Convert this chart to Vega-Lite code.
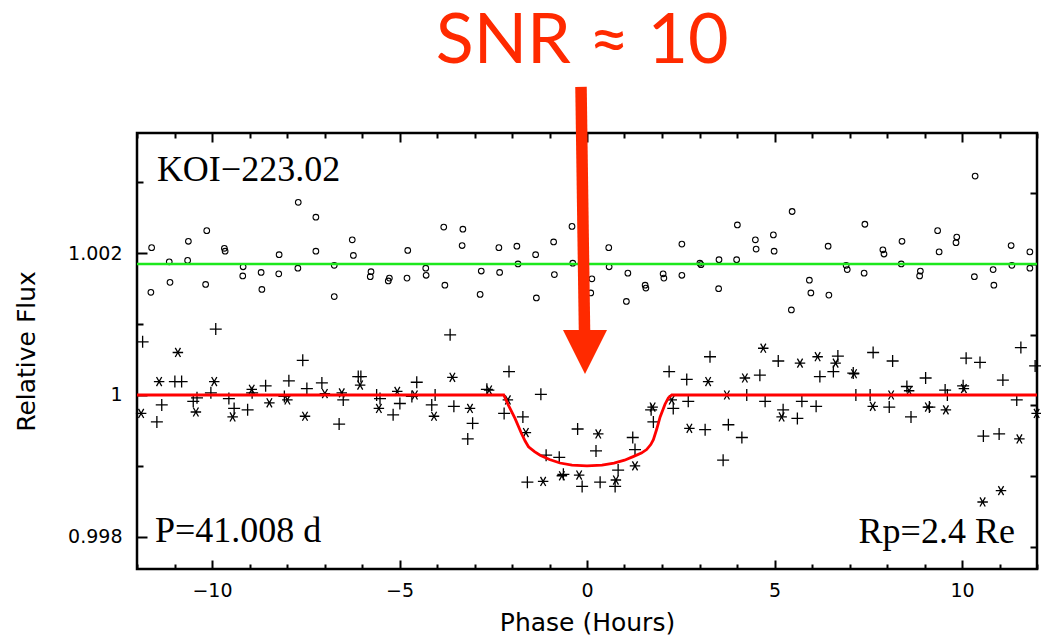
{
  "$schema": "https://vega.github.io/schema/vega-lite/v6.json",
  "width": 900,
  "height": 436,
  "autosize": {"type": "none"},
  "padding": {"left": 137, "top": 133, "right": 4, "bottom": 68},
  "background": "white",
  "config": {
    "view": {"stroke": "black", "strokeWidth": 2.5},
    "axis": {"grid": false, "tickColor": "black", "tickWidth": 2, "labelColor": "black", "titleColor": "black"}
  },
  "datasets": {
    "circles": [
      {"t":-11.61,"flux":1.00208},{"t":-11.63,"flux":1.00145},{"t":-11.14,"flux":1.00188},{"t":-11.12,"flux":1.00159},
      {"t":-10.63,"flux":1.00217},{"t":-10.65,"flux":1.00190},{"t":-10.14,"flux":1.00232},{"t":-10.17,"flux":1.00156},
      {"t":-9.67,"flux":1.00207},{"t":-9.65,"flux":1.00203},{"t":-9.17,"flux":1.00181},{"t":-9.18,"flux":1.00168},
      {"t":-8.69,"flux":1.00173},{"t":-8.67,"flux":1.00149},{"t":-8.21,"flux":1.00198},{"t":-8.22,"flux":1.00171},
      {"t":-7.70,"flux":1.00272},{"t":-7.71,"flux":1.00179},{"t":-7.23,"flux":1.00251},{"t":-7.23,"flux":1.00203},
      {"t":-6.74,"flux":1.00183},{"t":-6.74,"flux":1.00139},{"t":-6.26,"flux":1.00219},{"t":-6.23,"flux":1.00197},
      {"t":-5.76,"flux":1.00174},{"t":-5.78,"flux":1.00167},{"t":-5.27,"flux":1.00165},{"t":-5.30,"flux":1.00161},
      {"t":-4.78,"flux":1.00204},{"t":-4.80,"flux":1.00165},{"t":-4.30,"flux":1.00179},{"t":-4.29,"flux":1.00169},
      {"t":-3.82,"flux":1.00237},{"t":-3.79,"flux":1.00155},{"t":-3.31,"flux":1.00234},{"t":-3.33,"flux":1.00211},
      {"t":-2.82,"flux":1.00175},{"t":-2.85,"flux":1.00142},{"t":-2.35,"flux":1.00208},{"t":-2.33,"flux":1.00173},
      {"t":-1.87,"flux":1.00210},{"t":-1.84,"flux":1.00185},{"t":-1.37,"flux":1.00198},{"t":-1.35,"flux":1.00137},
      {"t":-0.89,"flux":1.00216},{"t":-0.87,"flux":1.00170},{"t":-0.40,"flux":1.00238},{"t":-0.38,"flux":1.00186},
      {"t":0.13,"flux":1.00164},{"t":0.10,"flux":1.00144},{"t":0.58,"flux":1.00208},{"t":0.59,"flux":1.00181},
      {"t":1.09,"flux":1.00172},{"t":1.05,"flux":1.00132},{"t":1.55,"flux":1.00155},{"t":1.57,"flux":1.00151},
      {"t":2.03,"flux":1.00171},{"t":2.05,"flux":1.00165},{"t":2.53,"flux":1.00213},{"t":2.53,"flux":1.00169},
      {"t":3.01,"flux":1.00186},{"t":3.04,"flux":1.00184},{"t":3.52,"flux":1.00191},{"t":3.51,"flux":1.00150},
      {"t":4.01,"flux":1.00240},{"t":3.99,"flux":1.00191},{"t":4.49,"flux":1.00219},{"t":4.51,"flux":1.00206},
      {"t":4.97,"flux":1.00226},{"t":4.99,"flux":1.00203},{"t":5.47,"flux":1.00259},{"t":5.45,"flux":1.00120},
      {"t":5.93,"flux":1.00162},{"t":5.97,"flux":1.00144},{"t":6.43,"flux":1.00210},{"t":6.45,"flux":1.00141},
      {"t":6.91,"flux":1.00183},{"t":6.94,"flux":1.00177},{"t":7.41,"flux":1.00241},{"t":7.39,"flux":1.00172},
      {"t":7.89,"flux":1.00205},{"t":7.92,"flux":1.00199},{"t":8.40,"flux":1.00217},{"t":8.38,"flux":1.00185},
      {"t":8.89,"flux":1.00175},{"t":8.87,"flux":1.00168},{"t":9.35,"flux":1.00232},{"t":9.39,"flux":1.00202},
      {"t":9.86,"flux":1.00223},{"t":9.84,"flux":1.00215},{"t":10.35,"flux":1.00309},{"t":10.33,"flux":1.00167},
      {"t":10.83,"flux":1.00177},{"t":10.85,"flux":1.00155},{"t":11.31,"flux":1.00211},{"t":11.33,"flux":1.00183},
      {"t":11.81,"flux":1.00202},{"t":11.81,"flux":1.00179}
    ],
    "plus": [
      {"t":-11.85,"flux":1.00075},{"t":-11.47,"flux":0.99962},{"t":-11.34,"flux":0.99986},{"t":-10.99,"flux":1.00019},
      {"t":-10.81,"flux":1.00019},{"t":-10.50,"flux":0.99991},{"t":-10.40,"flux":0.99996},{"t":-9.90,"flux":1.00093},
      {"t":-10.03,"flux":1.00003},{"t":-9.55,"flux":0.99995},{"t":-9.41,"flux":0.99981},{"t":-9.05,"flux":0.99979},
      {"t":-8.93,"flux":1.00003},{"t":-8.57,"flux":1.00013},{"t":-8.07,"flux":0.99998},{"t":-7.95,"flux":1.00020},
      {"t":-7.58,"flux":1.00049},{"t":-7.47,"flux":1.00009},{"t":-7.07,"flux":1.00017},{"t":-6.61,"flux":0.99959},
      {"t":-6.50,"flux":0.99993},{"t":-6.10,"flux":1.00026},{"t":-6.03,"flux":1.00026},{"t":-5.61,"flux":1.00000},
      {"t":-5.52,"flux":0.99995},{"t":-4.99,"flux":0.99988},{"t":-5.17,"flux":0.99972},{"t":-4.54,"flux":1.00018},
      {"t":-4.67,"flux":0.99998},{"t":-4.05,"flux":1.00000},{"t":-4.14,"flux":0.99986},{"t":-3.65,"flux":1.00085},
      {"t":-3.55,"flux":0.99984},{"t":-3.05,"flux":0.99960},{"t":-3.18,"flux":0.99938},{"t":-2.67,"flux":1.00008},
      {"t":-2.08,"flux":1.00033},{"t":-2.21,"flux":0.99974},{"t":-1.71,"flux":0.99969},{"t":-1.23,"flux":1.00001},
      {"t":-1.09,"flux":0.99915},{"t":-0.74,"flux":0.99912},{"t":-1.59,"flux":0.99877},{"t":-0.63,"flux":0.99888},
      {"t":-0.25,"flux":0.99952},{"t":-0.13,"flux":0.99871},{"t":0.24,"flux":0.99921},{"t":0.35,"flux":0.99877},
      {"t":0.83,"flux":0.99894},{"t":0.75,"flux":0.99871},{"t":1.22,"flux":0.99940},{"t":1.28,"flux":0.99923},
      {"t":1.71,"flux":0.99979},{"t":1.77,"flux":0.99962},{"t":2.19,"flux":1.00033},{"t":2.30,"flux":0.99981},
      {"t":2.66,"flux":1.00022},{"t":2.70,"flux":0.99991},{"t":3.15,"flux":0.99951},{"t":3.28,"flux":1.00054},
      {"t":3.63,"flux":0.99908},{"t":3.77,"flux":0.99958},{"t":4.13,"flux":0.99940},{"t":4.26,"flux":1.00000},
      {"t":4.61,"flux":1.00028},{"t":4.75,"flux":0.99991},{"t":5.10,"flux":1.00048},{"t":5.23,"flux":0.99979},
      {"t":5.61,"flux":0.99967},{"t":5.73,"flux":0.99991},{"t":6.11,"flux":0.99984},{"t":6.21,"flux":1.00026},
      {"t":6.57,"flux":1.00033},{"t":6.69,"flux":1.00055},{"t":7.10,"flux":1.00031},{"t":7.17,"flux":1.00000},
      {"t":7.55,"flux":1.00000},{"t":7.63,"flux":1.00060},{"t":8.06,"flux":0.99983},{"t":8.15,"flux":1.00048},
      {"t":8.53,"flux":1.00012},{"t":8.64,"flux":0.99969},{"t":9.03,"flux":1.00024},{"t":9.13,"flux":0.99983},
      {"t":9.55,"flux":1.00007},{"t":9.61,"flux":1.00000},{"t":10.03,"flux":1.00013},{"t":10.11,"flux":1.00052},
      {"t":10.48,"flux":1.00046},{"t":10.57,"flux":0.99942},{"t":10.99,"flux":0.99945},{"t":11.09,"flux":1.00021},
      {"t":11.46,"flux":0.99993},{"t":11.57,"flux":1.00067},{"t":11.95,"flux":1.00041}
    ],
    "star": [
      {"t":-11.89,"flux":0.99974},{"t":-11.41,"flux":1.00019},{"t":-10.91,"flux":1.00060},{"t":-10.43,"flux":0.99976},
      {"t":-9.94,"flux":1.00019},{"t":-9.45,"flux":0.99969},{"t":-8.94,"flux":1.00008},{"t":-8.47,"flux":0.99989},
      {"t":-7.99,"flux":0.99993},{"t":-7.52,"flux":0.99970},{"t":-6.99,"flux":1.00002},{"t":-6.54,"flux":1.00003},
      {"t":-6.05,"flux":1.00014},{"t":-5.55,"flux":0.99981},{"t":-5.06,"flux":1.00005},{"t":-4.59,"flux":1.00000},
      {"t":-4.08,"flux":0.99970},{"t":-3.59,"flux":1.00025},{"t":-3.12,"flux":0.99981},{"t":-2.61,"flux":1.00007},
      {"t":-2.11,"flux":0.99993},{"t":-1.63,"flux":0.99947},{"t":-1.17,"flux":0.99878},{"t":-0.67,"flux":0.99886},
      {"t":-0.21,"flux":0.99887},{"t":0.30,"flux":0.99945},{"t":0.77,"flux":0.99880},{"t":1.28,"flux":0.99900},
      {"t":1.75,"flux":0.99983},{"t":2.26,"flux":0.99993},{"t":2.73,"flux":0.99953},{"t":3.23,"flux":1.00019},
      {"t":3.73,"flux":1.00000},{"t":4.21,"flux":1.00024},{"t":4.70,"flux":1.00066},{"t":5.19,"flux":0.99969},
      {"t":5.68,"flux":1.00045},{"t":6.15,"flux":1.00054},{"t":6.63,"flux":1.00045},{"t":7.12,"flux":1.00030},
      {"t":7.62,"flux":0.99984},{"t":8.11,"flux":1.00000},{"t":8.59,"flux":1.00006},{"t":9.09,"flux":0.99983},
      {"t":9.57,"flux":0.99979},{"t":10.05,"flux":1.00009},{"t":10.55,"flux":0.99849},{"t":11.04,"flux":0.99865},
      {"t":11.53,"flux":0.99938},{"t":11.99,"flux":0.99974}
    ],
    "model": [
      {"t":-12,"flux":1.0},{"t":-2.22,"flux":1.0},{"t":-2.1,"flux":0.99986},{"t":-1.92,"flux":0.99967},
      {"t":-1.75,"flux":0.99946},{"t":-1.65,"flux":0.99935},{"t":-1.56,"flux":0.99927},{"t":-1.4,"flux":0.99920},
      {"t":-1.25,"flux":0.99915},{"t":-1.0,"flux":0.99909},{"t":-0.72,"flux":0.99904},{"t":-0.4,"flux":0.99901},
      {"t":0,"flux":0.99900},{"t":0.4,"flux":0.99901},{"t":0.72,"flux":0.99904},{"t":1.0,"flux":0.99908},
      {"t":1.23,"flux":0.99913},{"t":1.45,"flux":0.99918},{"t":1.59,"flux":0.99923},{"t":1.7,"flux":0.99930},
      {"t":1.77,"flux":0.99937},{"t":1.86,"flux":0.99952},{"t":1.95,"flux":0.99969},{"t":2.08,"flux":0.99987},
      {"t":2.17,"flux":0.99996},{"t":2.26,"flux":1.0},{"t":12,"flux":1.0}
    ]
  },
  "resolve": {"axis": {"x": "independent", "y": "independent"}},
  "layer": [
    {
      "data": {"name": "circles"},
      "mark": {"type": "point", "shape": "circle", "filled": false, "stroke": "black", "strokeWidth": 1.1, "size": 32, "opacity": 1},
      "encoding": {
        "x": {"field": "t", "type": "quantitative", "scale": {"domain": [-12, 12], "nice": false, "zero": false},
          "axis": {"orient": "bottom", "values": [-12,-11,-10,-9,-8,-7,-6,-5,-4,-3,-2,-1,0,1,2,3,4,5,6,7,8,9,10,11,12], "format": "d",
            "labelExpr": "datum.value % 5 === 0 ? datum.label : ''", "domain": false, "labelFlush": false, "labelOverlap": false,
            "tickSize": {"condition": {"test": "datum.value % 5 === 0", "value": -9}, "value": -5},
            "labelFont": "DejaVu Sans", "labelFontSize": 19, "labelPadding": 21,
            "title": "Phase (Hours)", "titleFont": "DejaVu Sans", "titleFontSize": 25, "titleFontWeight": "normal", "titlePadding": 6}},
        "y": {"field": "flux", "type": "quantitative", "scale": {"domain": [0.997544, 1.003698], "nice": false, "zero": false},
          "axis": {"orient": "left", "values": [0.998, 0.999, 1, 1.001, 1.002, 1.003], "format": "~g",
            "labelExpr": "round(datum.value * 1000) % 2 === 0 ? datum.label : ''", "domain": false, "labelFlush": false, "labelOverlap": false,
            "tickSize": {"condition": {"test": "round(datum.value * 1000) % 2 === 0", "value": -10}, "value": -6},
            "labelFont": "DejaVu Sans", "labelFontSize": 19, "labelPadding": 25,
            "title": "Relative Flux", "titleFont": "DejaVu Sans", "titleFontSize": 25, "titleFontWeight": "normal", "titlePadding": 28}}
      }
    },
    {
      "data": {"name": "plus"},
      "mark": {"type": "point", "shape": "M-1,0L1,0M0,-1L0,1", "filled": false, "stroke": "black", "strokeWidth": 1.3, "size": 144, "opacity": 1},
      "encoding": {
        "x": {"field": "t", "type": "quantitative",
          "axis": {"orient": "top", "values": [-12,-11,-10,-9,-8,-7,-6,-5,-4,-3,-2,-1,0,1,2,3,4,5,6,7,8,9,10,11,12],
            "labels": false, "domain": false, "title": null,
            "tickSize": {"condition": {"test": "datum.value % 5 === 0", "value": -9}, "value": -5}}},
        "y": {"field": "flux", "type": "quantitative",
          "axis": {"orient": "right", "values": [0.998, 0.999, 1, 1.001, 1.002, 1.003], "labels": false, "domain": false, "title": null, "tickSize": -7, "tickOffset": 10.5}}
      }
    },
    {
      "data": {"name": "star"},
      "mark": {"type": "point", "shape": "M-1,0L1,0M-0.5,-0.866L0.5,0.866M-0.5,0.866L0.5,-0.866", "filled": false, "stroke": "black", "strokeWidth": 1.3, "size": 110, "opacity": 1},
      "encoding": {
        "x": {"field": "t", "type": "quantitative", "axis": null},
        "y": {"field": "flux", "type": "quantitative", "axis": null}
      }
    },
    {
      "data": {"name": "model"},
      "mark": {"type": "line", "color": "#ff0000", "strokeWidth": 2.8},
      "encoding": {
        "x": {"field": "t", "type": "quantitative", "axis": null},
        "y": {"field": "flux", "type": "quantitative", "axis": null}
      }
    },
    {
      "data": {"values": [{}]},
      "mark": {"type": "rule", "color": "#1de81d", "strokeWidth": 2.5},
      "encoding": {
        "y": {"datum": 1.00185, "type": "quantitative", "axis": null}
      }
    },
    {
      "data": {"values": [{}]},
      "mark": {"type": "rule", "color": "#ff2a00", "strokeWidth": 11.5, "strokeCap": "butt"},
      "encoding": {
        "x": {"datum": -0.16, "type": "quantitative", "axis": null},
        "x2": {"datum": -0.065},
        "y": {"datum": 1.00435, "type": "quantitative", "axis": null},
        "y2": {"datum": 1.00085}
      }
    },
    {
      "data": {"values": [{}]},
      "mark": {"type": "point", "shape": "M-1,-1L1,-1L0,1Z", "filled": true, "color": "#ff2a00", "size": 1936, "opacity": 1, "strokeWidth": 0},
      "encoding": {
        "x": {"datum": -0.053, "type": "quantitative", "axis": null},
        "y": {"datum": 1.000607, "type": "quantitative", "axis": null}
      }
    },
    {
      "data": {"values": [{}]},
      "mark": {"type": "text", "text": "SNR ≈ 10", "font": "Lato", "fontSize": 70, "color": "#ff2a00", "align": "center", "baseline": "alphabetic"},
      "encoding": {
        "x": {"datum": -0.13, "type": "quantitative", "axis": null},
        "y": {"datum": 1.004686, "type": "quantitative", "axis": null}
      }
    },
    {
      "data": {"values": [{}]},
      "mark": {"type": "text", "text": "KOI−223.02", "font": "Liberation Serif", "fontSize": 36, "color": "black", "align": "left", "baseline": "alphabetic"},
      "encoding": {
        "x": {"datum": -11.47, "type": "quantitative", "axis": null},
        "y": {"datum": 1.00302, "type": "quantitative", "axis": null}
      }
    },
    {
      "data": {"values": [{}]},
      "mark": {"type": "text", "text": "P=41.008 d", "font": "Liberation Serif", "fontSize": 36, "color": "black", "align": "left", "baseline": "alphabetic"},
      "encoding": {
        "x": {"datum": -11.52, "type": "quantitative", "axis": null},
        "y": {"datum": 0.997925, "type": "quantitative", "axis": null}
      }
    },
    {
      "data": {"values": [{}]},
      "mark": {"type": "text", "text": "Rp=2.4 Re", "font": "Liberation Serif", "fontSize": 36, "color": "black", "align": "right", "baseline": "alphabetic"},
      "encoding": {
        "x": {"datum": 11.41, "type": "quantitative", "axis": null},
        "y": {"datum": 0.99791, "type": "quantitative", "axis": null}
      }
    }
  ]
}
